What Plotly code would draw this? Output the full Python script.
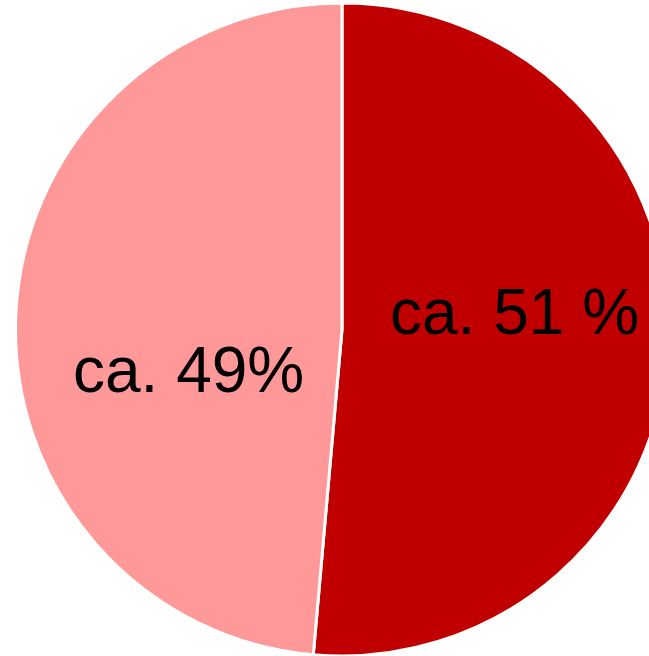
import plotly.graph_objects as go

# Data
categories = ["Anteil A", "Anteil B"]
values = [51.4, 48.6]
label_texts = ["ca. 51 %", "ca. 49%"]
colors = ["#C00000", "#FF9999"]

W, H = 684, 656
ML, MR, MT, MB = 0, 0, 3, 0

fig = go.Figure(
    go.Pie(
        labels=categories,
        values=values,
        sort=False,
        direction="clockwise",
        rotation=0,
        marker=dict(colors=colors, line=dict(color="white", width=3)),
        textinfo="none",
        hoverinfo="label+percent",
        showlegend=False,
    )
)

# label positions (pixel centers converted to paper coords)
label_px = [(514, 312), (188, 370)]
for txt, (px, py) in zip(label_texts, label_px):
    fig.add_annotation(
        x=(px - ML) / (W - ML - MR),
        y=1 - (py - MT) / (H - MT - MB),
        xref="paper", yref="paper",
        text=txt, showarrow=False,
        xanchor="center", yanchor="middle",
        font=dict(family="Liberation Sans, Arial", size=64, color="black"),
    )

fig.update_layout(
    width=W, height=H,
    margin=dict(l=ML, r=MR, t=MT, b=MB),
    paper_bgcolor="white", plot_bgcolor="white",
)

fig.write_html(
    "out.html",
    config={"displayModeBar": False},
    post_script="document.body.style.margin='0';document.body.style.overflow='hidden';document.documentElement.style.overflow='hidden';",
)
